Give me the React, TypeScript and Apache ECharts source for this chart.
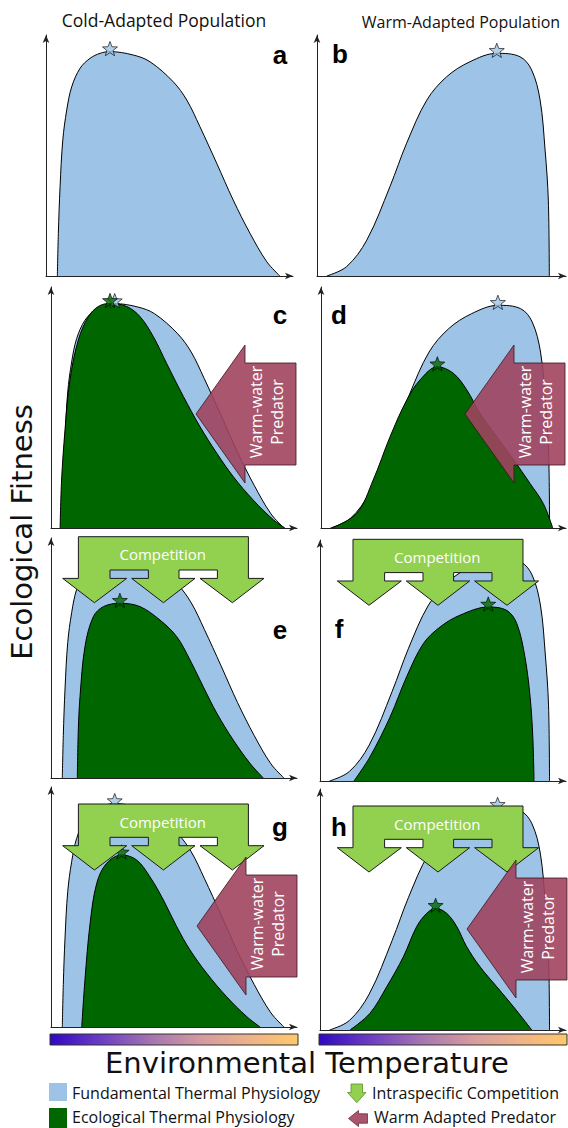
import React, { useEffect, useRef } from "react";
import * as echarts from "echarts";

// ---------- data (x: 0..100 across panel, y: 0..100 fitness) ----------
const coldFundX = [4.6, 5.0, 5.7, 6.8, 8.4, 10.4, 13.8, 17.8, 21.9, 25.9, 35.3, 42.1, 51.5, 57, 62.3, 69.1, 75.8, 82.6, 89.4, 94.7];
const coldFundY = [0, 17.7, 37.1, 56.4, 68.9, 78.5, 86.2, 90.3, 92.4, 93.1, 91.7, 88.9, 80.6, 73, 62, 46.8, 31.5, 17.7, 5.9, 0];

const warmFundX = [3.9, 11.9, 20, 29.3, 36, 44.1, 52.1, 61.4, 72.2, 81.5, 86.2, 89.6, 91.6, 92.9, 93.3];
const warmFundY = [0, 3.9, 14.9, 37.1, 55.1, 73, 82.7, 88.9, 92.4, 91, 85.5, 73, 52.3, 31.5, 0];

const ecoCX = [3.7, 4.3, 5.7, 7.7, 11.1, 15.2, 19.2, 24, 30.8, 36.2, 41.6, 47, 53.8, 60.6, 67.4, 74.1, 82.2, 90.4, 95.1];
const ecoCY = [0, 19.9, 40.7, 61.4, 78, 87.7, 91.9, 93.2, 91.9, 87.7, 79.4, 68.3, 54.6, 42, 31, 21.3, 11.6, 3.4, 0];

const ecoDX = [4.4, 14.6, 21.3, 28.2, 35, 40.4, 47.5, 54, 59.5, 64.9, 71.7, 78.7, 85.3, 90.7, 94.6];
const ecoDY = [0, 6.1, 19.9, 37.9, 53.1, 61.4, 66.9, 64.2, 57.3, 47.6, 37.9, 28.2, 18.5, 10.2, 0];

const ecoEX = [10.7, 11.1, 11.8, 13.8, 17.2, 21.3, 28, 36.2, 44.3, 51.1, 56.5, 61.9, 67.4, 74.1, 80.9, 86.3];
const ecoEY = [0, 20, 33.9, 54.7, 67.2, 71.4, 72.8, 71.4, 65.8, 58.9, 49.2, 38, 27, 15.8, 6.1, 0];

const ecoFX = [13.8, 20.3, 28.5, 35.2, 42, 48.8, 56.9, 68.4, 75.9, 80, 83.3, 85.4, 86.5, 87];
const ecoFY = [0, 10, 26.6, 43.2, 57, 63.9, 68.8, 72.2, 70.8, 65.3, 51.5, 34.9, 18.3, 0];

const ecoGX = [12.5, 13.8, 15.9, 18.6, 22.6, 28.7, 34.8, 40.2, 45.7, 51.1, 56.5, 63.3, 71.4, 79.6, 85];
const ecoGY = [0, 19.6, 43.2, 59.9, 68.2, 71.7, 69.6, 62.6, 52.9, 41.8, 32.1, 22.4, 12.6, 4.3, 0];

const ecoHX = [12.2, 20.3, 27.1, 33.9, 39.3, 43.4, 47, 51.5, 55.6, 59.6, 65, 71.8, 78.6, 86.1];
const ecoHY = [0, 6.9, 17.9, 30.4, 42.9, 48.4, 50.5, 48.4, 42.9, 34.6, 26.3, 18, 9.7, 0];

const panelLetters = ["a", "b", "c", "d", "e", "f", "g", "h"];
const columnTitles = ["Cold-Adapted Population", "Warm-Adapted Population"];
const legendLabels = [
  "Fundamental Thermal Physiology",
  "Ecological Thermal Physiology",
  "Intraspecific Competition",
  "Warm Adapted Predator",
];

// ---------- layout ----------
const BLUE = "#9dc3e6";
const GREEN = "#006600";
const LIME = "#92d050";
const MAROON = "rgba(160,68,94,0.9)";
const FONT = "'Open Sans', 'Noto Sans', sans-serif";
const WIDE_FONT = "'DejaVu Sans', 'Open Sans', sans-serif";

type Panel = {
  box: [number, number, number, number];
  fund: [number[], number[]];
  eco: [number[], number[]] | null;
  letter: [number, number];
  comp?: [number, number];
  pred?: [number, number];
};

const PANELS: Panel[] = [
  { box: [46, 35, 247, 241], fund: [coldFundX, coldFundY], eco: null, letter: [280, 55] },
  { box: [317, 35, 249, 241], fund: [warmFundX, warmFundY], eco: null, letter: [340, 54] },
  { box: [51, 287, 246, 241], fund: [coldFundX, coldFundY], eco: [ecoCX, ecoCY], letter: [280, 315], pred: [196, 345] },
  { box: [321, 287, 245, 241], fund: [warmFundX, warmFundY], eco: [ecoDX, ecoDY], letter: [339, 315], pred: [465, 345] },
  { box: [51, 538, 246, 240], fund: [coldFundX, coldFundY], eco: [ecoEX, ecoEY], letter: [280, 630], comp: [62.7, 536.7] },
  { box: [320, 540, 246, 241], fund: [warmFundX, warmFundY], eco: [ecoFX, ecoFY], letter: [339, 629], comp: [337.3, 539.3] },
  { box: [51, 787, 246, 240], fund: [coldFundX, coldFundY], eco: [ecoGX, ecoGY], letter: [280, 827], comp: [62.7, 804], pred: [197, 857] },
  { box: [320, 789, 246, 241], fund: [warmFundX, warmFundY], eco: [ecoHX, ecoHY], letter: [339, 827], comp: [337.3, 806], pred: [467, 860] },
];

const COMP_SHAPE = [
  [15.7, 0], [185.7, 0], [185.7, 41.7], [201.3, 41.7], [169.7, 66], [137.3, 41.7], [154.7, 41.7],
  [154.7, 33.3], [116.3, 33.3], [116.3, 41.7], [132.3, 41.7], [100.7, 66], [69, 41.7], [85.7, 41.7],
  [85.7, 33.3], [47.3, 33.3], [47.3, 41.7], [64, 41.7], [31.7, 66], [0, 41.7], [15.7, 41.7],
];
const PRED_SHAPE = [[0, 69], [49, 0], [49, 18], [100, 18], [100, 120], [49, 120], [49, 138]];

const starPath = (() => {
  const pts: string[] = [];
  for (let i = 0; i < 10; i++) {
    const a = -Math.PI / 2 + (i * Math.PI) / 5;
    const r = i % 2 ? 0.42 : 1;
    pts.push(`${(r * Math.cos(a)).toFixed(4)},${(r * Math.sin(a)).toFixed(4)}`);
  }
  return "path://M" + pts.join("L") + "Z";
})();

function zip(xs: number[], ys: number[]) {
  return xs.map((x, i) => [x, ys[i]]);
}
function peak(xs: number[], ys: number[]) {
  let k = 0;
  ys.forEach((y, i) => {
    if (y > ys[k]) k = i;
  });
  return [xs[k], ys[k]];
}

function buildOption() {
  const grid = PANELS.map((p) => ({ left: p.box[0], top: p.box[1], width: p.box[2], height: p.box[3] }));
  const axisCommon = {
    type: "value",
    min: 0,
    max: 100,
    axisLine: {
      show: true,
      onZero: false,
      symbol: ["none", "arrow"],
      symbolSize: [5, 8],
      lineStyle: { color: "#222", width: 1 },
    },
    axisTick: { show: false },
    axisLabel: { show: false },
    splitLine: { show: false },
  };
  const xAxis = PANELS.map((_, i) => ({ ...axisCommon, gridIndex: i }));
  const yAxis = PANELS.map((_, i) => ({ ...axisCommon, gridIndex: i }));

  const series: any[] = [];
  PANELS.forEach((p, i) => {
    series.push({
      type: "line",
      xAxisIndex: i,
      yAxisIndex: i,
      data: zip(p.fund[0], p.fund[1]),
      smooth: 0.35,
      symbol: "none",
      lineStyle: { color: "#000", width: 1 },
      areaStyle: { color: BLUE, opacity: 1 },
      z: 2,
    });
    if (p.eco) {
      series.push({
        type: "line",
        xAxisIndex: i,
        yAxisIndex: i,
        data: zip(p.eco[0], p.eco[1]),
        smooth: 0.35,
        symbol: "none",
        lineStyle: { color: "#000", width: 1 },
        areaStyle: { color: GREEN, opacity: 1 },
        z: 3,
      });
    }
    const stars: any[] = [
      { value: peak(p.fund[0], p.fund[1]), itemStyle: { color: BLUE } },
    ];
    if (p.eco) stars.push({ value: peak(p.eco[0], p.eco[1]), itemStyle: { color: GREEN } });
    series.push({
      type: "scatter",
      xAxisIndex: i,
      yAxisIndex: i,
      data: stars,
      symbol: starPath,
      symbolSize: 15,
      symbolKeepAspect: true,
      symbolOffset: [0, -3],
      itemStyle: { borderColor: "#000", borderWidth: 0.8 },
      z: 4,
    });
  });

  const g: any[] = [];
  // titles
  g.push({ type: "text", x: 164, y: 20, z: 20, style: { text: columnTitles[0], fontSize: 17.5, fontFamily: FONT, fill: "#111", align: "center", verticalAlign: "middle" } });
  g.push({ type: "text", x: 461, y: 22, z: 20, style: { text: columnTitles[1], fontSize: 16, fontFamily: FONT, fill: "#111", align: "center", verticalAlign: "middle" } });

  PANELS.forEach((p, i) => {
    if (p.comp) {
      g.push({
        type: "group",
        x: p.comp[0],
        y: p.comp[1],
        children: [
          { type: "polygon", z: 30, shape: { points: COMP_SHAPE }, style: { fill: LIME, stroke: "#1a1a1a", lineWidth: 1 } },
          { type: "text", z: 31, x: 100, y: 17.5, style: { text: "Competition", fontSize: 15, fontFamily: FONT, fill: "#fff", align: "center", verticalAlign: "middle" } },
        ],
      });
    }
    if (p.pred) {
      g.push({
        type: "group",
        x: p.pred[0],
        y: p.pred[1],
        children: [
          { type: "polygon", z: 32, shape: { points: PRED_SHAPE }, style: { fill: MAROON, stroke: "#3a1520", lineWidth: 0.8 } },
          { type: "text", z: 33, x: 70, y: 67, rotation: Math.PI / 2, style: { text: "Warm-water\nPredator", fontSize: 16, lineHeight: 21, fontFamily: FONT, fill: "#fff", align: "center", verticalAlign: "middle" } },
        ],
      });
    }
    g.push({
      type: "text",
      x: p.letter[0],
      y: p.letter[1],
      z: 40,
      style: { text: panelLetters[i], fontSize: 26, fontWeight: "bold", fontFamily: "'Liberation Sans', Arial, sans-serif", fill: "#000", align: "center", verticalAlign: "middle" },
    });
  });

  // y axis title
  g.push({ type: "text", x: 22, y: 532, rotation: Math.PI / 2, z: 20, style: { text: "Ecological Fitness", fontSize: 29, fontFamily: WIDE_FONT, fill: "#111", align: "center", verticalAlign: "middle" } });

  // gradient bars
  const grad = {
    type: "linear", x: 0, y: 0, x2: 1, y2: 0,
    colorStops: [
      { offset: 0, color: "#2f08c2" },
      { offset: 0.2, color: "#6a3cc4" },
      { offset: 0.42, color: "#a877b0" },
      { offset: 0.62, color: "#d69c9e" },
      { offset: 0.82, color: "#efb487" },
      { offset: 1, color: "#ffc86a" },
    ],
  };
  g.push({ type: "rect", z: 20, shape: { x: 50, y: 1034, width: 248, height: 11 }, style: { fill: grad, stroke: "#333", lineWidth: 1 } });
  g.push({ type: "rect", z: 20, shape: { x: 319, y: 1034, width: 248, height: 11 }, style: { fill: grad, stroke: "#333", lineWidth: 1 } });

  g.push({ type: "text", x: 307, y: 1063, z: 20, style: { text: "Environmental Temperature", fontSize: 29, fontFamily: WIDE_FONT, fill: "#111", align: "center", verticalAlign: "middle" } });

  // legend
  g.push({ type: "rect", z: 20, shape: { x: 49, y: 1083, width: 18, height: 18 }, style: { fill: BLUE } });
  g.push({ type: "rect", z: 20, shape: { x: 49, y: 1108, width: 18, height: 20 }, style: { fill: GREEN } });
  g.push({ type: "text", x: 72, y: 1093, z: 20, style: { text: legendLabels[0], fontSize: 16, fontFamily: FONT, fill: "#111", align: "left", verticalAlign: "middle" } });
  g.push({ type: "text", x: 72, y: 1117, z: 20, style: { text: legendLabels[1], fontSize: 16, fontFamily: FONT, fill: "#111", align: "left", verticalAlign: "middle" } });
  g.push({
    type: "polygon", x: 347.5, y: 1084, z: 20,
    shape: { points: [[3.5, 0], [15, 0], [15, 8.5], [18.5, 8.5], [9.3, 18.7], [0, 8.5], [3.5, 8.5]] },
    style: { fill: LIME, stroke: "#5d8f2c", lineWidth: 0.8 },
  });
  g.push({
    type: "polygon", x: 348.5, y: 1110.5, z: 20,
    shape: { points: [[0, 8], [10, 0], [10, 3.3], [19, 3.3], [19, 12.7], [10, 12.7], [10, 16]] },
    style: { fill: "#a8566c", stroke: "#6e2a3c", lineWidth: 0.8 },
  });
  g.push({ type: "text", x: 372, y: 1093, z: 20, style: { text: legendLabels[2], fontSize: 16, fontFamily: FONT, fill: "#111", align: "left", verticalAlign: "middle" } });
  g.push({ type: "text", x: 374, y: 1117, z: 20, style: { text: legendLabels[3], fontSize: 16, fontFamily: FONT, fill: "#111", align: "left", verticalAlign: "middle" } });

  return {
    animation: false,
    backgroundColor: "#fff",
    grid,
    xAxis,
    yAxis,
    series,
    graphic: { elements: g },
  };
}

export default function App() {
  const ref = useRef<HTMLDivElement>(null);
  useEffect(() => {
    if (!ref.current) return;
    const chart = echarts.init(ref.current, undefined, { renderer: "svg" });
    chart.setOption(buildOption() as any);
    return () => chart.dispose();
  }, []);
  return (
    <div
      ref={ref}
      style={{ position: "fixed", left: 0, top: 0, width: 568, height: 1128, background: "#fff" }}
    />
  );
}
